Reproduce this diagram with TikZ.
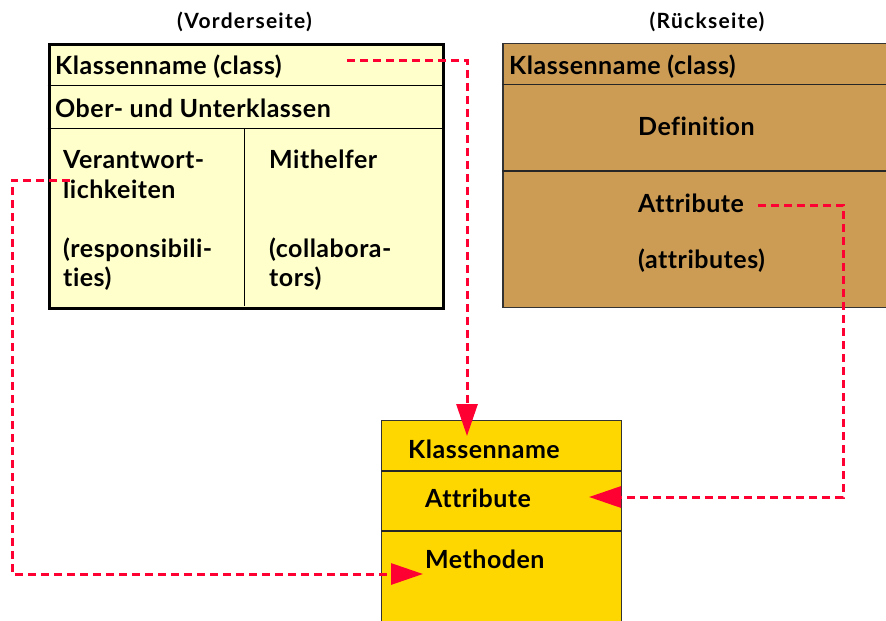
\documentclass[tikz,border=0pt]{standalone}
\usepackage{fontspec}
\setmainfont{Lato}[Ligatures=NoCommon, LetterSpace=2]
\newfontfamily\titlefont{Lato}[Ligatures=NoCommon, LetterSpace=6]
\usetikzlibrary{arrows.meta}
\definecolor{frontfill}{HTML}{FFFFCC}
\definecolor{backfill}{HTML}{CC9C55}
\definecolor{classfill}{HTML}{FFD700}
\definecolor{linkred}{HTML}{FF0033}

\begin{document}
\begin{tikzpicture}[x=1pt,y=-1pt]
		\tikzset{Card/.style = {draw, inner sep=0pt, anchor=north west},
		         Label/.style = {anchor=base west, inner sep=0pt, font=\bfseries\fontsize{25}{29}\selectfont},
		         Title/.style = {anchor=base, inner sep=0pt, font=\titlefont\bfseries\fontsize{21}{25}\selectfont},
		         Link/.style = {color=linkred, line width=3pt, dash pattern=on 8pt off 5pt, -{Triangle[length=32pt,width=21pt]}}}
		\useasboundingbox (0,0) rectangle (886,621);
		% titles
		\node[Title] (vtitle) at (244.5,28) {(Vorderseite)};
		\node[Title] (rtitle) at (707,28) {(Rückseite)};
		% front side
		\node[Card, fill=frontfill, line width=3pt, minimum width=394pt, minimum height=264pt] (front) at (47.5,42.5) {};
		\draw[line width=1pt] (47.5,85) -- (441.5,85);
		\draw[line width=1pt] (47.5,128) -- (441.5,128);
		\draw[line width=1pt] (244,128) -- (244,306);
		\node[Label] (fname)  at (55,74)  {Klassenname (class)};
		\node[Label] (fsuper) at (55,117) {Ober- und Unterklassen};
		\node[Label] (resp1)  at (63,168) {Verantwort-};
		\node[Label] (resp2)  at (63,198) {lichkeiten};
		\node[Label] (resp3)  at (63,257) {(responsibili-};
		\node[Label] (resp4)  at (63,286) {ties)};
		\node[Label] (coll1)  at (269,168) {Mithelfer};
		\node[Label] (coll2)  at (269,257) {(collabora-};
		\node[Label] (coll3)  at (269,286) {tors)};
		% back side
		\node[Card, fill=backfill, draw=black!80, line width=1.5pt, minimum width=390pt, minimum height=264pt] (back) at (502,42.5) {};
		\draw[line width=1.2pt, black!85] (502,84.5) -- (890,84.5);
		\draw[line width=1.2pt, black!85] (502,171) -- (890,171);
		\node[Label] (bname)  at (509,74)  {Klassenname (class)};
		\node[Label] (bdef)   at (638,135) {Definition};
		\node[Label] (battr)  at (638,212) {Attribute};
		\node[Label] (battrs) at (638,268) {(attributes)};
		% class
		\node[Card, fill=classfill, draw=black!80, line width=1.2pt, minimum width=240pt, minimum height=210pt] (class) at (381,420) {};
		\draw[line width=1.2pt, black!85] (381,471) -- (621,471);
		\draw[line width=1.2pt, black!85] (381,531) -- (621,531);
		\node[Label] (cname) at (408,458) {Klassenname};
		\node[Label] (cattr) at (425,507) {Attribute};
		\node[Label] (cmeth) at (425,568) {Methoden};
		% links
		\coordinate (s1) at (347,60);
		\coordinate (t1) at (467,436);
		\coordinate (s2) at (758,205);
		\coordinate (b2) at (843,497);
		\coordinate (t2) at (589,497);
		\coordinate (s3) at (70,180);
		\coordinate (b3) at (12,574);
		\coordinate (t3) at (423,574);
		\draw[Link] (s1) -| (t1);
		\draw[Link] (s2) -| (b2) -- (t2);
		\draw[Link] (s3) -| (b3) -- (t3);
	\end{tikzpicture}
\end{document}
